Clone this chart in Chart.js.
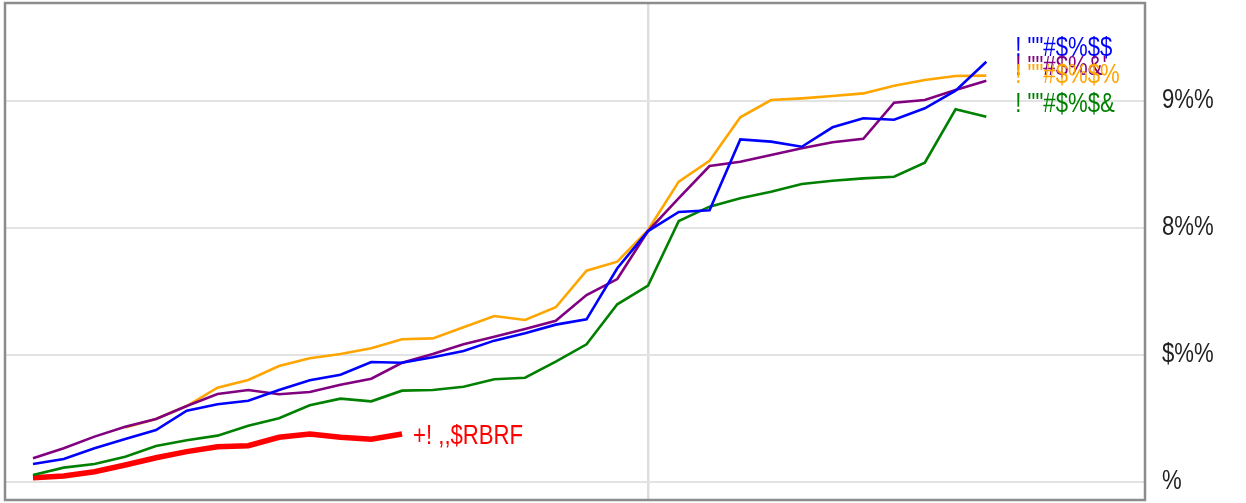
<!DOCTYPE html>
<html>
<head>
<meta charset="utf-8">
<script src="https://cdn.jsdelivr.net/npm/chart.js@4.4.0/dist/chart.umd.min.js"></script>
<style>
  html, body { margin: 0; padding: 0; background: #fff; }
</style>
</head>
<body>
<canvas id="chartCanvas" width="1246" height="503"></canvas>
<script>
// --- data ---
const steps = [0, 1, 2, 3, 4, 5, 6, 7, 8, 9, 10, 11, 12, 13, 14, 15,
               16, 17, 18, 19, 20, 21, 22, 23, 24, 25, 26, 27, 28, 29, 30, 31];

const blueSeries = [14.2, 18.1, 26.5, 33.9, 40.9, 56.1, 61.2, 64.0, 72.4, 80.1, 84.5, 94.5, 93.9, 98.2, 103.1, 111.3,
                    117.1, 123.9, 128.1, 168.3, 197.6, 212.6, 213.9, 269.8, 268.0, 264.0, 279.3, 286.4, 285.3, 294.3, 308.1, 330.9];
const purpleSeries = [18.7, 26.5, 35.7, 43.5, 49.6, 59.8, 69.3, 72.4, 69.1, 70.9, 76.6, 81.3, 93.9, 100.8, 108.4, 114.4,
                      120.5, 127.0, 147.2, 159.8, 197.6, 223.6, 248.8, 252.2, 257.5, 262.8, 267.5, 270.3, 298.7, 300.8, 308.7, 316.0];
const orangeSeries = [null, null, null, 42.8, 49.6, 59.8, 74.3, 80.3, 91.3, 97.4, 100.8, 105.3, 112.4, 113.1, 121.8, 130.7,
                      127.6, 137.6, 166.4, 173.5, 198.4, 236.5, 253.0, 287.2, 300.8, 302.1, 303.9, 306.0, 312.0, 316.5, 319.7, 320.0];
const greenSeries = [5.5, 11.3, 14.2, 19.9, 28.3, 32.8, 36.5, 44.3, 50.2, 60.4, 65.6, 63.5, 71.9, 72.4, 75.0, 80.9,
                     82.1, 94.7, 108.4, 139.9, 154.6, 205.5, 216.8, 223.4, 228.6, 234.6, 237.2, 239.1, 240.4, 251.4, 293.5, 287.6];
const redSeries = [3.4, 4.7, 8.1, 13.4, 19.1, 23.9, 27.8, 28.6, 35.2, 37.8, 35.2, 33.6, 37.8];

const seriesNames = ['! ""#$%$$', '! ""#$%&\'', '! ""#$%$%', '! ""#$%$&', '+! ,,$RBRF'];
const seriesColors = ["#0000ff", "#800080", "#ffa500", "#008000", "#ff0000"];
const labelValues = [341.7, 326.0, 319.7, 297.6, 35.4];

const tickValues = [0, 100, 200, 300];
const tickLabels = ["%", "$%%", "8%%", "9%%"];
const xGridAt = [20];

const FONT = "27px 'Liberation Sans', Arial, sans-serif";
const SQUASH = 0.82;

// --- helpers ---
const toPoints = arr => arr.map((v, i) => ({ x: steps[i], y: v }));

function squashedText(ctx, text, x, y) {
  ctx.save();
  ctx.translate(x, y);
  ctx.scale(SQUASH, 1);
  ctx.fillText(text, 0, 0);
  ctx.restore();
}

// line labels at the right end of each series, plus the right-hand tick labels
const textLayer = {
  id: "textLayer",
  afterDatasetsDraw(chart) {
    const { ctx, chartArea, scales: { x, y } } = chart;
    ctx.save();
    ctx.font = FONT;
    ctx.textAlign = "left";
    ctx.textBaseline = "middle";
    chart.data.datasets.forEach((ds, i) => {
      const pts = ds.data.filter(p => p.y !== null);
      const last = pts[pts.length - 1];
      const gap = i === 4 ? 11 : 29;
      ctx.fillStyle = seriesColors[i];
      squashedText(ctx, seriesNames[i], x.getPixelForValue(last.x) + gap, y.getPixelForValue(labelValues[i]));
    });
    ctx.fillStyle = "#222222";
    tickValues.forEach((v, i) => {
      squashedText(ctx, tickLabels[i], chartArea.right + 17, y.getPixelForValue(v));
    });
    ctx.restore();
  }
};

// grey frame around the plot
const frame = {
  id: "frame",
  afterDraw(chart) {
    const { ctx, chartArea: a } = chart;
    ctx.save();
    ctx.strokeStyle = "#8c8c8c";
    ctx.lineWidth = 2.5;
    ctx.strokeRect(a.left, a.top, a.right - a.left, a.bottom - a.top);
    ctx.restore();
  }
};

const series = [blueSeries, purpleSeries, orangeSeries, greenSeries, redSeries];

new Chart(document.getElementById("chartCanvas"), {
  type: "line",
  data: {
    datasets: series.map((s, i) => ({
      label: seriesNames[i],
      data: toPoints(s),
      borderColor: seriesColors[i],
      borderWidth: i === 4 ? 5.5 : 2.6,
      pointRadius: 0,
      tension: 0,
      fill: false
    }))
  },
  options: {
    responsive: false,
    animation: false,
    layout: { padding: { left: 5, top: 3, bottom: 3, right: 0 } },
    plugins: {
      legend: { display: false },
      tooltip: { enabled: false }
    },
    scales: {
      x: {
        type: "linear",
        min: -0.91,
        max: 36.16,
        ticks: { display: false },
        grid: { color: "#dddddd", lineWidth: 2.5, drawTicks: false },
        border: { display: false },
        afterBuildTicks: axis => { axis.ticks = xGridAt.map(v => ({ value: v })); },
        afterFit: axis => {
          axis.height = 0;
          axis.paddingLeft = 0; axis.paddingRight = 0;
        }
      },
      y: {
        position: "right",
        min: -14.2,
        max: 377.2,
        ticks: { display: false },
        grid: { color: "#e3e3e3", lineWidth: 2, drawTicks: false },
        border: { display: false },
        afterBuildTicks: axis => { axis.ticks = tickValues.map(v => ({ value: v })); },
        afterFit: axis => {
          axis.width = 101;
          axis.paddingTop = 0; axis.paddingBottom = 0;
        }
      }
    }
  },
  plugins: [textLayer, frame]
});
</script>
</body>
</html>
